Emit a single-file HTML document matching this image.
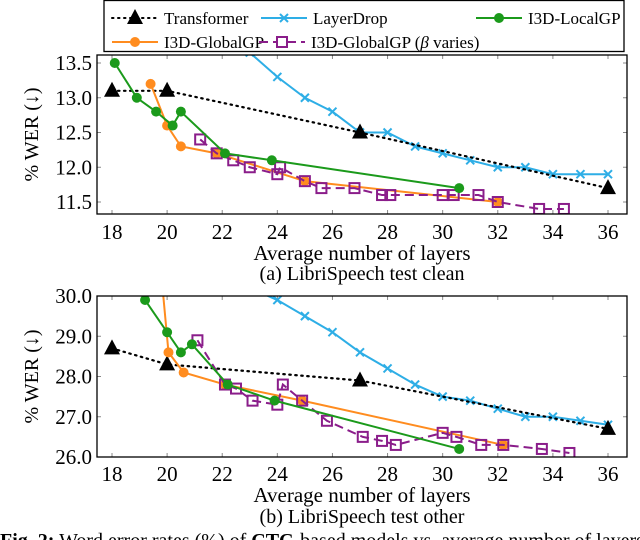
<!DOCTYPE html>
<html><head><meta charset="utf-8"><style>
body{margin:0;background:#fff;width:640px;height:540px;overflow:hidden}
svg{display:block}
svg text{font-family:"Liberation Serif","Times New Roman",serif}
</style></head><body>
<svg id="c" width="640" height="540" font-family="Liberation Serif, serif"></svg>
<script>
const transX=[18,20,27,36];
const transA=[13.1,13.1,12.5,11.7];
const transB=[28.7,28.3,27.9,26.7];
const ldXA=[23,24,25,26,27,28,29,30,31,32,33,34,35,36];
const ldA=[13.65,13.3,13.0,12.8,12.5,12.5,12.3,12.2,12.1,12.0,12.0,11.9,11.9,11.9];
const ldXB=[23,24,25,26,27,28,29,30,31,32,33,34,35,36];
const ldB=[30.2,29.9,29.5,29.1,28.6,28.2,27.8,27.5,27.4,27.2,27.0,27.0,26.9,26.8];
const locXA=[18.1,18.9,19.6,20.2,20.5,22.1,23.8,30.6];
const locA=[13.5,13.0,12.8,12.6,12.8,12.2,12.1,11.7];
const locXB=[19.2,20.0,20.5,20.9,22.2,23.9,30.6];
const locB=[29.9,29.1,28.6,28.8,27.8,27.4,26.2];
const gloXA=[19.4,20.0,20.5,21.8,25,32];
const gloA=[13.2,12.6,12.3,12.2,11.8,11.5];
const gloXB=[19.7,20.05,20.6,22.1,24.9,32.2];
const gloB=[31.2,28.6,28.1,27.8,27.4,26.3];
const betXA=[21.2,21.8,22.4,23,24,24.1,25,25.6,26.8,27.8,28.1,30,30.4,31.3,32,33.5,34.4];
const betA=[12.4,12.2,12.1,12.0,11.9,12.0,11.8,11.7,11.7,11.6,11.6,11.6,11.6,11.6,11.5,11.4,11.4];
const betXB=[21.1,22.1,22.5,23.1,24,24.2,24.9,25.8,27.1,27.8,28.3,30,30.5,31.4,32.2,33.6,34.6];
const betB=[28.9,27.8,27.7,27.4,27.3,27.8,27.4,26.9,26.5,26.4,26.3,26.6,26.5,26.3,26.3,26.2,26.1];
const xTicks=[18,20,22,24,26,28,30,32,34,36];
const yTicksA=[11.5,12.0,12.5,13.0,13.5];
const yTicksB=[26.0,27.0,28.0,29.0,30.0];

const NS="http://www.w3.org/2000/svg";
const svg=document.getElementById('c');
const FF='"Liberation Serif", serif';
function mk(t,a,p){const e=document.createElementNS(NS,t);for(const k in a)e.setAttribute(k,a[k]);if(t==='text')e.style.fontFamily=FF;(p||svg).appendChild(e);return e;}
const C={t:'#000',ld:'#2eaee6',loc:'#1b9a1b',glo:'#ff8c1f',bet:'#8a1d8a'};
const L=97,R=627;
const xs=v=>112+(v-18)*(608-112)/18;

function plot(id,top,bot,y0,v0,y1,v1,ticks,data,labY,titleY,capY,cap){
  const ys=v=>y0+(v-v0)*(y1-y0)/(v1-v0);
  const g=mk('g',{});
  
  
  const cp=mk('clipPath',{id:'cp'+id},g);mk('rect',{x:L,y:top,width:R-L,height:bot-top},cp);
  xTicks.forEach(t=>{const x=xs(t);mk('line',{x1:x,x2:x,y1:bot,y2:bot-4,stroke:'#888'},g);mk('line',{x1:x,x2:x,y1:top,y2:top+4,stroke:'#888'},g);
    const tx=mk('text',{x:x,y:labY,'text-anchor':'middle','font-size':21},g);tx.textContent=t;
    
    });
  ticks.forEach(t=>{const y=ys(t);mk('line',{x1:L,x2:L+4,y1:y,y2:y,stroke:'#888'},g);mk('line',{x1:R,x2:R-4,y1:y,y2:y,stroke:'#888'},g);
    const tx=mk('text',{x:L-5,y:y+7,'text-anchor':'end','font-size':21},g);tx.textContent=t.toFixed(1);
    
    });
  const pg=mk('g',{'clip-path':'url(#cp'+id+')'},g);
  data.forEach(([xa,ya,col,dash,mark,nm])=>{
    const s=mk('g',{},pg);
    
    
    const pts=xa.map((x,i)=>xs(x)+','+ys(ya[i])).join(' ');
    mk('polyline',{points:pts,fill:'none',stroke:col,'stroke-width':dash==='dot'?2.2:2,'stroke-dasharray':dash==='dot'?'1.5 4.5':dash==='dash'?'9 5':'none','stroke-linecap':dash==='dot'?'round':'butt'},s);
    xa.forEach((x,i)=>{const px=xs(x),py=ys(ya[i]);
      if(mark==='tri')mk('polygon',{points:`${px},${py-9} ${px-8},${py+6} ${px+8},${py+6}`,fill:'#000'},s);
      else if(mark==='x'){mk('path',{d:`M${px-4},${py-4}L${px+4},${py+4}M${px-4},${py+4}L${px+4},${py-4}`,stroke:col,'stroke-width':2},s);}
      else if(mark==='o')mk('circle',{cx:px,cy:py,r:5,fill:col},s);
      else if(mark==='sq')mk('rect',{x:px-5,y:py-5,width:10,height:10,fill:'none',stroke:col,'stroke-width':2},s);
    });
  });
  mk('rect',{x:L,y:top,width:R-L,height:bot-top,fill:'none',stroke:'#000','stroke-width':1.3},g);
  const yt=mk('text',{x:0,y:0,transform:`translate(38,${(top+bot)/2}) rotate(-90)`,'text-anchor':'middle','font-size':20},g);yt.textContent='% WER (↓)';
  
  
  const xt=mk('text',{x:362,y:titleY,'text-anchor':'middle','font-size':21},g);xt.textContent='Average number of layers';
  
  
  const ct=mk('text',{x:362,y:capY,'text-anchor':'middle','font-size':20},g);ct.textContent=cap;
  
  
}
plot('a',55,214,63,13.5,202,11.5,yTicksA,[
 [ldXA,ldA,C.ld,'solid','x','layerdrop'],
 [transX,transA,C.t,'dot','tri','transformer'],
 [gloXA,gloA,C.glo,'solid','o','globalgp'],
 [betXA,betA,C.bet,'dash','sq','globalgp-beta'],
 [locXA,locA,C.loc,'solid','o','localgp']],239,260,280,'(a) LibriSpeech test clean');
plot('b',296,457,296,30,457,26,yTicksB,[
 [ldXB,ldB,C.ld,'solid','x','layerdrop'],
 [transX,transB,C.t,'dot','tri','transformer'],
 [gloXB,gloB,C.glo,'solid','o','globalgp'],
 [betXB,betB,C.bet,'dash','sq','globalgp-beta'],
 [locXB,locB,C.loc,'solid','o','localgp']],481,502,523,'(b) LibriSpeech test other');

const lg=mk('g',{});


mk('rect',{x:104,y:0.5,width:520,height:51,fill:'#fff',stroke:'#000','stroke-width':1.3},lg);
function entry(x,y,col,dash,mark,label,nm){
  const e=mk('g',{},lg);
  
  
  mk('line',{x1:x,x2:x+46,y1:y,y2:y,stroke:col,'stroke-width':2,'stroke-dasharray':dash==='dot'?'1.5 4.5':dash==='dash'?'9 5':'none','stroke-linecap':dash==='dot'?'round':'butt'},e);
  const px=x+23,py=y;
  if(mark==='tri')mk('polygon',{points:`${px},${py-9} ${px-8},${py+6} ${px+8},${py+6}`,fill:'#000'},e);
  else if(mark==='x')mk('path',{d:`M${px-4},${py-4}L${px+4},${py+4}M${px-4},${py+4}L${px+4},${py-4}`,stroke:col,'stroke-width':2},e);
  else if(mark==='o')mk('circle',{cx:px,cy:py,r:5,fill:col},e);
  else mk('rect',{x:px-5,y:py-5,width:10,height:10,fill:'#fff',stroke:col,'stroke-width':2},e);
  const t=mk('text',{x:x+52,y:y+6,'font-size':17},e);t.innerHTML=label;
}
entry(112,18,C.t,'dot','tri','Transformer','transformer');
entry(261,18,C.ld,'solid','x','LayerDrop','layerdrop');
entry(476,18,C.loc,'solid','o','I3D-LocalGP','localgp');
entry(112,42,C.glo,'solid','o','I3D-GlobalGP','globalgp');
entry(259,42,C.bet,'dash','sq','I3D-GlobalGP (<tspan font-style="italic">β</tspan> varies)','globalgp-beta');

const fc=mk('text',{x:0,y:547,'font-size':20});
fc.innerHTML='<tspan font-weight="bold">Fig. 2:</tspan> Word error rates (%) of <tspan font-weight="bold">CTC</tspan>-based models vs. average number of layers';


</script>
</body></html>
